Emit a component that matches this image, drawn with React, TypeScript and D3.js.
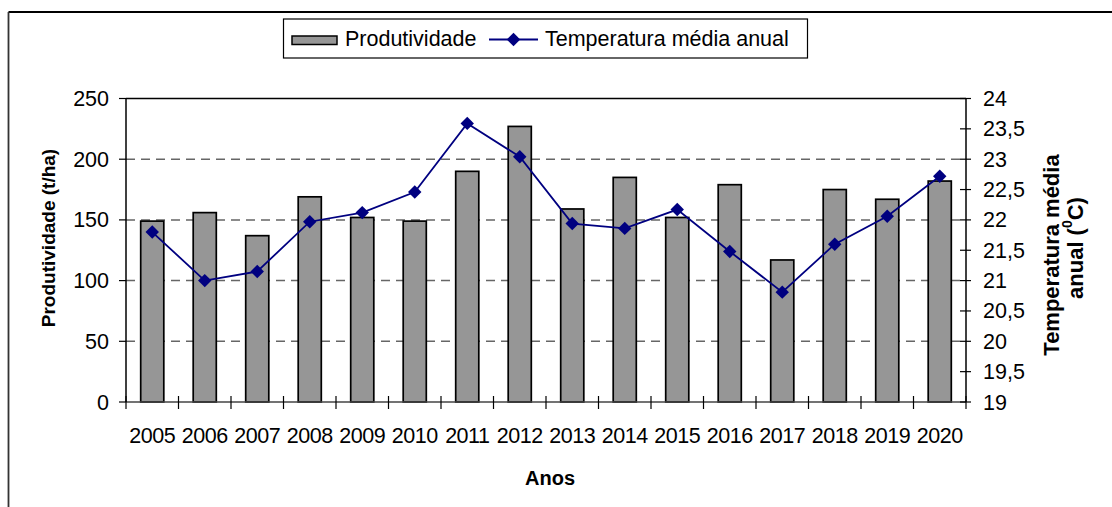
import { useEffect, useRef } from "react";
import * as d3 from "d3";

const WIDTH = 1112;
const HEIGHT = 507;
const PLOT = { left: 126, right: 966, top: 98.5, bottom: 402 };
const FONT = "'Liberation Sans', Arial, sans-serif";

const YEARS = ["2005", "2006", "2007", "2008", "2009", "2010", "2011", "2012", "2013", "2014", "2015", "2016", "2017", "2018", "2019", "2020"];
const PRODUTIVIDADE = [149, 156, 137, 169, 152, 149, 190, 227, 159, 185, 152, 179, 117, 175, 167, 182];
const TEMPERATURA = [21.8, 21.0, 21.15, 21.97, 22.12, 22.46, 23.59, 23.04, 21.94, 21.86, 22.17, 21.48, 20.81, 21.6, 22.06, 22.72];
const LEFT_TICKS = [0, 50, 100, 150, 200, 250];
const RIGHT_TICKS = [19, 19.5, 20, 20.5, 21, 21.5, 22, 22.5, 23, 23.5, 24];
const GRID_TICKS = [50, 100, 150, 200];

export default function App() {
  const svgRef = useRef<SVGSVGElement>(null);

  useEffect(() => {
    const svg = d3.select(svgRef.current);
    svg.selectAll("*").remove();

    const pad = 0.56;
    const x = d3.scaleBand<string>().domain(YEARS).range([PLOT.left, PLOT.right]).paddingInner(pad).paddingOuter(pad / 2);
    const yLeft = d3.scaleLinear().domain([0, 250]).range([PLOT.bottom, PLOT.top]);
    const yRight = d3.scaleLinear().domain([19, 24]).range([PLOT.bottom, PLOT.top]);
    const step = x.step();
    const center = (d: string) => (x(d) ?? 0) + x.bandwidth() / 2;

    svg.append("rect").attr("width", WIDTH).attr("height", HEIGHT).attr("fill", "#ffffff");

    // outer chart frame (runs past the image edges)
    svg.append("line").attr("x1", 8.5).attr("x2", WIDTH).attr("y1", 12).attr("y2", 12).attr("stroke", "#000").attr("stroke-width", 1.8);
    svg.append("line").attr("x1", 8.5).attr("x2", 8.5).attr("y1", 12).attr("y2", HEIGHT).attr("stroke", "#333").attr("stroke-width", 1.8);

    // gridlines
    GRID_TICKS.forEach((t) => {
      svg
        .append("line")
        .attr("x1", PLOT.left)
        .attr("x2", PLOT.right)
        .attr("y1", yLeft(t))
        .attr("y2", yLeft(t))
        .attr("stroke", "#666")
        .attr("stroke-width", 1.5)
        .attr("stroke-dasharray", "9 6");
    });

    // top frame line
    svg.append("line").attr("x1", PLOT.left).attr("x2", PLOT.right).attr("y1", PLOT.top).attr("y2", PLOT.top).attr("stroke", "#000").attr("stroke-width", 1.5);

    // bars
    svg
      .append("g")
      .selectAll("rect")
      .data(YEARS)
      .join("rect")
      .attr("x", (d) => x(d) ?? 0)
      .attr("y", (_, i) => yLeft(PRODUTIVIDADE[i]))
      .attr("width", x.bandwidth())
      .attr("height", (_, i) => PLOT.bottom - yLeft(PRODUTIVIDADE[i]))
      .attr("fill", "#969696")
      .attr("stroke", "#000")
      .attr("stroke-width", 1.7);

    // axes lines
    svg.append("line").attr("x1", PLOT.left).attr("x2", PLOT.right).attr("y1", PLOT.bottom).attr("y2", PLOT.bottom).attr("stroke", "#444").attr("stroke-width", 1.5);
    svg.append("line").attr("x1", PLOT.left).attr("x2", PLOT.left).attr("y1", PLOT.top).attr("y2", PLOT.bottom).attr("stroke", "#000").attr("stroke-width", 1.5);
    svg.append("line").attr("x1", PLOT.right).attr("x2", PLOT.right).attr("y1", PLOT.top).attr("y2", PLOT.bottom).attr("stroke", "#000").attr("stroke-width", 1.5);

    // left ticks + labels
    LEFT_TICKS.forEach((t) => {
      svg.append("line").attr("x1", PLOT.left - 7).attr("x2", PLOT.left).attr("y1", yLeft(t)).attr("y2", yLeft(t)).attr("stroke", "#000").attr("stroke-width", 1.2);
      svg
        .append("text")
        .attr("x", PLOT.left - 17)
        .attr("y", yLeft(t))
        .attr("dy", "0.35em")
        .attr("text-anchor", "end")
        .attr("font-family", FONT)
        .attr("font-size", 21.5)
        .text(String(t));
    });

    // right ticks + labels
    RIGHT_TICKS.forEach((t) => {
      svg.append("line").attr("x1", PLOT.right - 6).attr("x2", PLOT.right + 5).attr("y1", yRight(t)).attr("y2", yRight(t)).attr("stroke", "#000").attr("stroke-width", 1.2);
      svg
        .append("text")
        .attr("x", PLOT.right + 17)
        .attr("y", yRight(t))
        .attr("dy", "0.35em")
        .attr("font-family", FONT)
        .attr("font-size", 21.5)
        .text(String(t).replace(".", ","));
    });

    // x ticks at category boundaries
    d3.range(YEARS.length + 1).forEach((i) => {
      const bx = PLOT.left + i * step;
      svg.append("line").attr("x1", bx).attr("x2", bx).attr("y1", PLOT.bottom - 6).attr("y2", PLOT.bottom + 7).attr("stroke", "#000").attr("stroke-width", 1.2);
    });

    YEARS.forEach((d) => {
      svg
        .append("text")
        .attr("x", center(d))
        .attr("y", 443)
        .attr("text-anchor", "middle")
        .attr("font-family", FONT)
        .attr("font-size", 21.5)
        .attr("letter-spacing", -0.5)
        .text(d);
    });

    // temperature line
    const line = d3
      .line<number>()
      .x((_, i) => center(YEARS[i]))
      .y((v) => yRight(v));
    svg.append("path").datum(TEMPERATURA).attr("d", line).attr("fill", "none").attr("stroke", "#000080").attr("stroke-width", 1.8);

    const diamond = d3.symbol().type(d3.symbolDiamond2).size(115);
    svg
      .append("g")
      .selectAll("path")
      .data(TEMPERATURA)
      .join("path")
      .attr("transform", (v, i) => `translate(${center(YEARS[i])},${yRight(v)})`)
      .attr("d", diamond)
      .attr("fill", "#000080");

    // axis titles
    svg
      .append("text")
      .attr("transform", "translate(48,238) rotate(-90)")
      .attr("text-anchor", "middle")
      .attr("dominant-baseline", "central")
      .attr("font-family", FONT)
      .attr("font-size", 19)
      .attr("font-weight", 700)
      .text("Produtividade (t/ha)");

    svg
      .append("text")
      .attr("transform", "translate(1051,255) rotate(-90)")
      .attr("text-anchor", "middle")
      .attr("dominant-baseline", "central")
      .attr("font-family", FONT)
      .attr("font-size", 22)
      .attr("font-weight", 700)
      .text("Temperatura média");

    const t2 = svg
      .append("text")
      .attr("transform", "translate(1075,248) rotate(-90)")
      .attr("text-anchor", "middle")
      .attr("dominant-baseline", "central")
      .attr("font-family", FONT)
      .attr("font-size", 22)
      .attr("font-weight", 700);
    t2.append("tspan").text("anual (");
    t2.append("tspan").attr("font-size", 14).attr("baseline-shift", "super").text("0");
    t2.append("tspan").text("C)");

    svg
      .append("text")
      .attr("x", 550)
      .attr("y", 485)
      .attr("text-anchor", "middle")
      .attr("font-family", FONT)
      .attr("font-size", 20)
      .attr("font-weight", 700)
      .text("Anos");

    // legend
    const legend = svg.append("g");
    legend.append("rect").attr("x", 283.5).attr("y", 19).attr("width", 524).attr("height", 39).attr("fill", "#fff").attr("stroke", "#000").attr("stroke-width", 1.2);
    legend.append("rect").attr("x", 292).attr("y", 36).attr("width", 45).attr("height", 8.5).attr("fill", "#969696").attr("stroke", "#000").attr("stroke-width", 1.5);
    legend.append("text").attr("x", 345).attr("y", 46).attr("font-family", FONT).attr("font-size", 21.5).text("Produtividade");
    legend.append("line").attr("x1", 489).attr("x2", 538).attr("y1", 39.5).attr("y2", 39.5).attr("stroke", "#000080").attr("stroke-width", 1.8);
    legend.append("path").attr("transform", "translate(513.5,39.5)").attr("d", diamond).attr("fill", "#000080");
    legend.append("text").attr("x", 545).attr("y", 46).attr("font-family", FONT).attr("font-size", 21.5).text("Temperatura média anual");
  }, []);

  return (
    <svg
      ref={svgRef}
      width={WIDTH}
      height={HEIGHT}
      style={{ position: "absolute", left: 0, top: 0, display: "block" }}
    />
  );
}
